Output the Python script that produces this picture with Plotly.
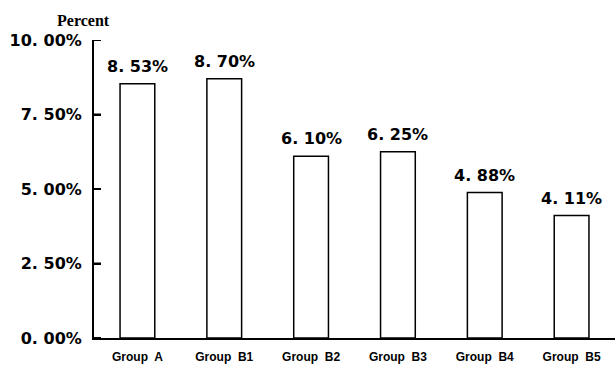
import plotly.graph_objects as go

categories = ["Group  A", "Group  B1", "Group  B2", "Group  B3", "Group  B4", "Group  B5"]
values = [8.53, 8.70, 6.10, 6.25, 4.88, 4.11]
tick_values = [0, 2.5, 5, 7.5, 10]
tick_labels = [f"{v:.2f}%".replace(".", ". ") for v in tick_values]
bar_labels = [f"{v:.2f}%".replace(".", ". ") for v in values]

fig = go.Figure(go.Bar(
    x=categories, y=values,
    marker=dict(color="white", line=dict(color="black", width=1.5)),
    width=0.4, cliponaxis=False,
))

annotations = [dict(
    text="<b>Percent</b>", xref="paper", yref="paper", x=-0.021, y=1,
    xanchor="center", yanchor="bottom", yshift=9, showarrow=False,
    font=dict(family="Liberation Serif, Times New Roman", size=16, color="black"),
)]
for c, v, t in zip(categories, values, bar_labels):
    annotations.append(dict(
        text=t, x=c, y=v, xref="x", yref="y", xanchor="center", yanchor="bottom",
        yshift=6, showarrow=False,
        font=dict(family="DejaVu Sans", size=16, color="black", weight="bold"),
    ))

shapes = [dict(type="line", xref="paper", yref="y", x0=0, x1=7 / 521, y0=tv, y1=tv,
               line=dict(color="black", width=2)) for tv in tick_values]

fig.update_layout(
    width=615, height=365,
    margin=dict(l=94, r=0, t=40, b=27),
    paper_bgcolor="white", plot_bgcolor="white",
    showlegend=False,
    font=dict(family="Liberation Sans, Arial", color="black"),
    annotations=annotations,
    shapes=shapes,
)
fig.update_yaxes(
    range=[0, 10], tickvals=tick_values, ticktext=tick_labels,
    showgrid=False, zeroline=False,
    showline=True, linecolor="black", linewidth=2,
    ticks="inside", ticklen=7, tickwidth=2, tickcolor="black",
    tickfont=dict(size=16, weight="bold", family="DejaVu Sans"),
    ticklabelstandoff=7,
)
fig.update_xaxes(
    range=[-0.5, 5.5],
    showgrid=False, showline=True, linecolor="black", linewidth=2,
    ticks="", tickfont=dict(size=12, weight="bold", family="Liberation Sans, Arial"),
    ticklabelstandoff=7,
)

fig.write_html("out.html")
